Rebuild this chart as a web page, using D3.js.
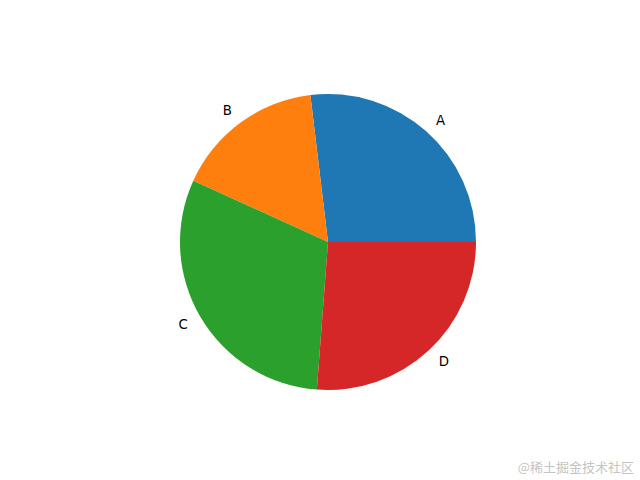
<!DOCTYPE html>
<html>
<head>
<script src='https://d3js.org/d3.v7.min.js'></script>
<style>
body {margin:0; background:#fff;}
</style>
</head>
<body>
<svg width=640 height=480></svg>
<script>
var labels = ['A','B','C','D']
var values = [26.9, 16.3, 30.6, 26.2]
var colors = ['#1f77b4','#ff7f0e','#2ca02c','#d62728']

var cx = 328, cy = 242, radius = 148

var svg = d3.select('svg')
var g = svg.append('g').attr('transform','translate('+cx+','+cy+')')

// matplotlib starts at 3 o'clock and goes counterclockwise
var pie = d3.pie().sort(null)
    .startAngle(Math.PI/2)
    .endAngle(Math.PI/2 - 2*Math.PI)
var arcs = pie(values)
var arc = d3.arc().innerRadius(0).outerRadius(radius)

g.selectAll('path')
  .data(arcs)
  .enter()
  .append('path')
    .attr('d', arc)
    .attr('fill', function(d,i) {return colors[i];})

//labels at 1.1 radius
g.selectAll('text')
  .data(arcs)
  .enter()
  .append('text')
    .attr('x', function(d) {var a=(d.startAngle+d.endAngle)/2; return Math.sin(a)*radius*1.1;})
    .attr('y', function(d) {var a=(d.startAngle+d.endAngle)/2; return -Math.cos(a)*radius*1.1;})
    .attr('text-anchor', function(d) {var a=(d.startAngle+d.endAngle)/2; return Math.sin(a)>0 ? 'start' : 'end';})
    .attr('dominant-baseline','central')
    .attr('font-family','DejaVu Sans')
    .attr('font-size','13.3px')
    .text(function(d,i) {return labels[i];})

svg.append('text')
    .attr('x', 634)
    .attr('y', 472)
    .attr('text-anchor','end')
    .attr('font-family','Noto Sans CJK SC')
    .attr('font-size','13px')
    .attr('fill','#c4c4c4')
    .text('@稀土掘金技术社区')
</script>
</body>
</html>
